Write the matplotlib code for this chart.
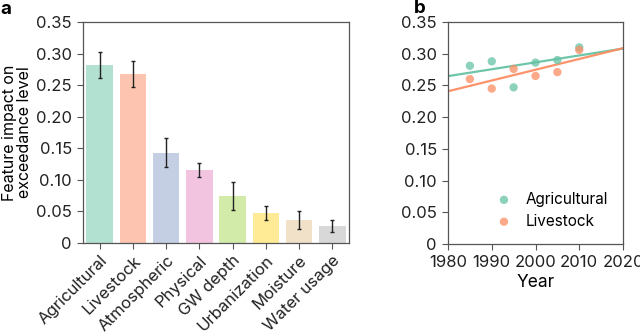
import numpy as np
import matplotlib
matplotlib.use('Agg')
import matplotlib.pyplot as plt

plt.rcParams['font.family'] = ['Inter', 'DejaVu Sans']
plt.rcParams['font.size'] = 12

# panel a data
features = ['Agricultural', 'Livestock', 'Atmospheric', 'Physical', 'GW depth',
            'Urbanization', 'Moisture', 'Water usage']
impact = [0.282, 0.268, 0.143, 0.116, 0.074, 0.047, 0.036, 0.027]
impact_err = [0.021, 0.021, 0.023, 0.011, 0.022, 0.011, 0.014, 0.0095]
bar_colors = ['#66c2a5', '#fc8d62', '#8da0cb', '#e78ac3', '#a6d854',
              '#ffd92f', '#e5c494', '#b3b3b3']

# panel b data
years = [1985, 1990, 1995, 2000, 2005, 2010]
agri = [0.281, 0.288, 0.247, 0.286, 0.290, 0.310]
live = [0.260, 0.245, 0.276, 0.265, 0.271, 0.306]

yticks = [0, 0.05, 0.10, 0.15, 0.20, 0.25, 0.30, 0.35]
ytick_labels = ['0', '0.05', '0.10', '0.15', '0.20', '0.25', '0.30', '0.35']
spine_col = '#555555'

fig = plt.figure(figsize=(6.4, 3.32), dpi=100)
ax1 = fig.add_axes([83/640, 1-243/332, 266/640, 221/332])
ax2 = fig.add_axes([448/640, 1-244/332, 175/640, 222/332])

x = np.arange(len(features))
ax1.bar(x, impact, width=0.8, color=bar_colors, alpha=0.5)
ax1.errorbar(x, impact, yerr=impact_err, fmt='none', ecolor='#222222',
             elinewidth=1, capsize=1.5, capthick=1)
ax1.set_xlim(-0.5, len(features)-0.5)
ax1.set_xticks(x)
ax1.set_xticklabels(features, rotation=45, ha='right', rotation_mode='anchor',
                    fontsize=10.6)
ax1.set_ylabel('Feature impact on\nexceedance level', fontsize=11.5, linespacing=1.05)
ax1.yaxis.set_label_coords(-0.19, 0.5)

xx = np.array([1980, 2020])
for vals, c, lab in [(agri, '#66c2a5', 'Agricultural'), (live, '#fc8d62', 'Livestock')]:
    ax2.scatter(years, vals, s=36, color=c, alpha=0.75, edgecolors='none', label=lab, zorder=3)
    k, b = np.polyfit(years, vals, 1)
    ax2.plot(xx, k*xx + b, color=c, linewidth=1.6, alpha=0.95)
ax2.set_xlim(1980, 2020)
ax2.set_xticks([1980, 1990, 2000, 2010, 2020])
ax2.set_xlabel('Year', fontsize=12.5, labelpad=3)
ax2.legend(loc='lower right', frameon=False, handletextpad=0.4, labelspacing=0.45,
           borderaxespad=0.6, markerscale=1.0, borderpad=0.4, fontsize=11)

for ax in (ax1, ax2):
    ax.set_ylim(0, 0.35)
    ax.set_yticks(yticks)
    ax.set_yticklabels(ytick_labels)
    ax.tick_params(direction='out', length=4, width=0.8, pad=4, color=spine_col,
                   labelcolor='#222222', labelsize=12)
    for s in ax.spines.values():
        s.set_color(spine_col)
        s.set_linewidth(0.9)
ax1.tick_params(axis='x', pad=3)

fig.text(0/640, 1-14/332, 'a', fontsize=13.5, fontweight='bold')
fig.text(414/640, 1-13/332, 'b', fontsize=13.5, fontweight='bold')

fig.savefig('out.png', dpi=100)
